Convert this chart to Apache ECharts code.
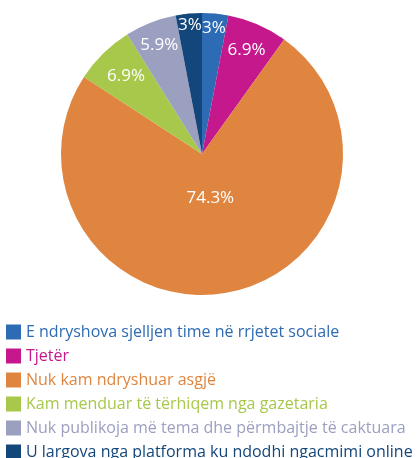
<!DOCTYPE html>
<html>
<head>
<meta charset="utf-8">
<script src="https://cdn.jsdelivr.net/npm/echarts@6/dist/echarts.min.js"></script>
<style>
  html, body { margin: 0; padding: 0; background: #fff; }
  #chart { width: 419px; height: 458px; }
</style>
</head>
<body>
<div id="chart"></div>
<script>
// kategorite dhe vlerat (%)
const categories = [
  'E ndryshova sjelljen time në rrjetet sociale',
  'Tjetër',
  'Nuk kam ndryshuar asgjë',
  'Kam menduar të tërhiqem nga gazetaria',
  'Nuk publikoja më tema dhe përmbajtje të caktuara',
  'U largova nga platforma ku ndodhi ngacmimi online'
]
const values = [3, 6.9, 74.3, 6.9, 5.9, 3]
const colors = ['#2d6bb5', '#c5188c', '#df853f', '#a7c84b', '#9b9fc0', '#13467b']
// sa larg nga qendra qendrohet etiketa (pjese e rrezes)
const labelRadius = [0.9, 0.8, 0.32, 0.77, 0.83, 0.92]

const cx = 202, cy = 154, R = 141
const total = values.reduce((a, b) => a + b, 0)

function midAngle (i) {
  let before = 0
  for (let k = 0; k < i; k++) before += values[k]
  return (before + values[i] / 2) / total * Math.PI * 2
}

const chart = echarts.init(document.getElementById('chart'))
chart.setOption({
  animation: false,
  color: colors,
  legend: {
    orient: 'vertical',
    left: 4,
    top: 324,
    height: 160,
    padding: [0, 0, 0, 2],
    itemWidth: 15,
    itemHeight: 15,
    itemGap: 8,
    icon: 'rect',
    selectedMode: false,
    textStyle: { fontFamily: 'Open Sans', fontSize: 16 },
    data: categories.map((name, i) => ({ name, textStyle: { color: colors[i] } }))
  },
  series: [{
    type: 'pie',
    center: [cx, cy],
    radius: R,
    startAngle: 90,
    clockwise: true,
    label: {
      show: true,
      position: 'inside',
      color: '#fff',
      fontFamily: 'Open Sans',
      fontSize: 17,
      formatter: p => p.value + '%'
    },
    labelLayout: p => {
      const a = midAngle(p.dataIndex)
      const r = labelRadius[p.dataIndex] * R
      return {
        x: cx + r * Math.sin(a),
        y: cy - r * Math.cos(a),
        align: 'center',
        verticalAlign: 'middle'
      }
    },
    emphasis: { disabled: true },
    data: categories.map((name, i) => ({ name, value: values[i] }))
  }]
})
</script>
</body>
</html>
